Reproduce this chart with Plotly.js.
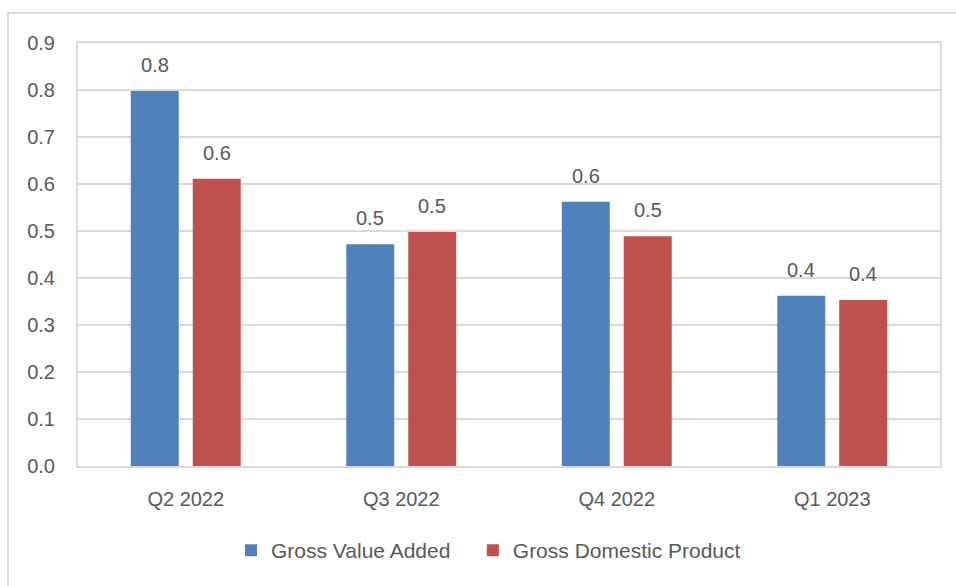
<!DOCTYPE html>
<html>
<head>
<meta charset="utf-8">
<script src="https://cdn.plot.ly/plotly-3.0.1.min.js"></script>
<style>html,body{margin:0;padding:0;background:#fff;}#chart{width:956px;height:586px;}</style>
</head>
<body>
<div id="chart"></div>
<script>
const categories = ["Q2 2022", "Q3 2022", "Q4 2022", "Q1 2023"];
const gvaName = "Gross Value Added";
const gdpName = "Gross Domestic Product";
const gvaValues = [0.798, 0.472, 0.562, 0.362];
const gdpValues = [0.611, 0.498, 0.489, 0.353];
const yTicks = [0, 0.1, 0.2, 0.3, 0.4, 0.5, 0.6, 0.7, 0.8, 0.9];

const FONT = "Liberation Sans, Arial, sans-serif";
const TXT = "#595959";
const GRID = "#d9d9d9";
const FS = 20;

const traces = [
  {type: "bar", name: gvaName, x: categories, y: gvaValues, marker: {color: "#4F81BD"}, hoverinfo: "none", legend: "legend"},
  {type: "bar", name: gdpName, x: categories, y: gdpValues, marker: {color: "#C0504D"}, hoverinfo: "none", legend: "legend2"}
];

const annotations = [];
[[gvaValues, -31], [gdpValues, 31]].forEach(([vals, dx]) => {
  vals.forEach((v, i) => {
    annotations.push({
      x: categories[i], y: v, xref: "x", yref: "y",
      text: v.toFixed(1), showarrow: false,
      xshift: dx, yshift: 13, yanchor: "bottom",
      font: {family: FONT, size: FS, color: TXT}
    });
  });
});

const legendBase = {orientation: "h", y: -0.2, yanchor: "middle", xanchor: "left",
                    font: {family: FONT, size: 21, color: TXT}, itemwidth: 30, bgcolor: "rgba(0,0,0,0)"};

const layout = {
  width: 956, height: 586,
  margin: {l: 78, r: 16, t: 43, b: 120},
  paper_bgcolor: "#fff", plot_bgcolor: "#fff",
  font: {family: FONT, size: FS, color: TXT},
  barmode: "group", bargap: 0.425, bargroupgap: 0.226,
  showlegend: true,
  legend: Object.assign({}, legendBase, {x: 0.1775}),
  legend2: Object.assign({}, legendBase, {x: 0.458}),
  xaxis: {type: "category", showgrid: false, showline: true, linecolor: GRID, linewidth: 2, mirror: true,
          ticks: "", ticklabelstandoff: 14, tickfont: {family: FONT, size: FS, color: TXT}},
  yaxis: {range: [0, 0.9], tickvals: yTicks, ticktext: yTicks.map(v => v.toFixed(1)),
          showgrid: true, gridcolor: GRID, gridwidth: 1.5, zeroline: false,
          showline: true, linecolor: GRID, linewidth: 2, mirror: true,
          ticks: "", ticklabelstandoff: 17, tickfont: {family: FONT, size: FS, color: TXT}},
  annotations: annotations,
  shapes: [{type: "rect", xref: "paper", yref: "paper", x0: -0.0812, x1: 1.03, y0: -0.3, y1: 1.0709,
            line: {color: GRID, width: 2}, layer: "below"}]
};

Plotly.newPlot("chart", traces, layout, {displayModeBar: false, staticPlot: true});
</script>
</body>
</html>
